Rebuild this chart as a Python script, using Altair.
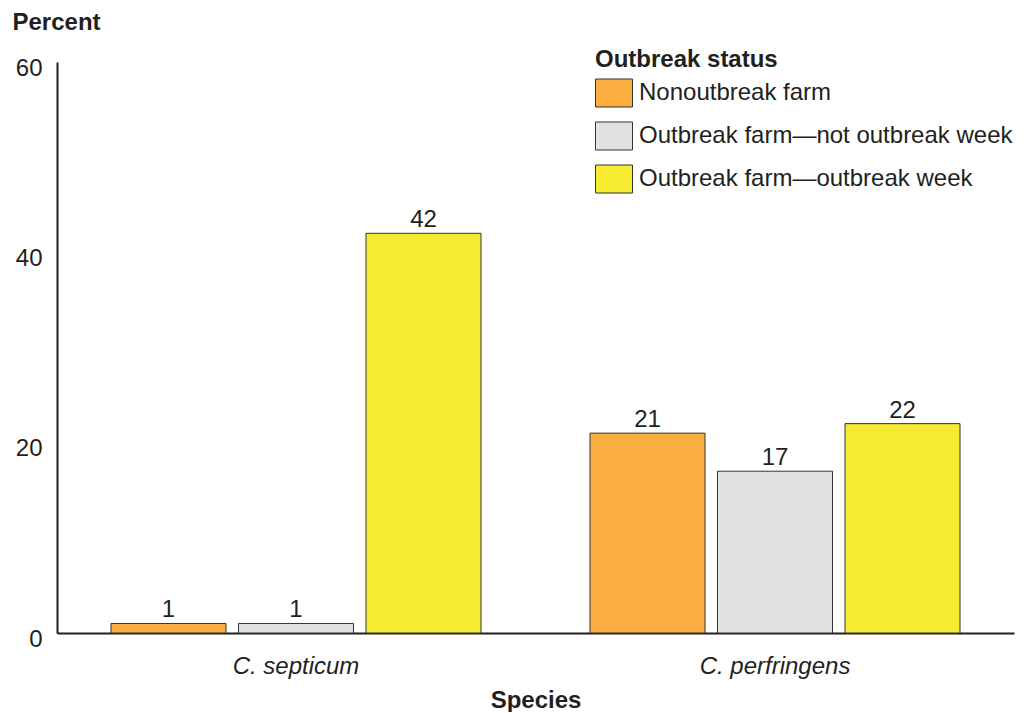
import altair as alt
import pandas as pd

species = ["C. septicum", "C. perfringens"]
statuses = [
    "Nonoutbreak farm",
    "Outbreak farm\u2014not outbreak week",
    "Outbreak farm\u2014outbreak week",
]
septicum_pct = [1, 1, 42]
perfringens_pct = [21, 17, 22]
colors = ["#FBAE40", "#E1E2E4", "#F6EB31"]

rows = []
for st, v in zip(statuses, septicum_pct):
    rows.append({"species": species[0], "status": st, "pct": v})
for st, v in zip(statuses, perfringens_pct):
    rows.append({"species": species[1], "status": st, "pct": v})
df = pd.DataFrame(rows)

FONT = "Liberation Sans"
INK = "#231F20"
FS = 24

x = alt.X(
    "species:N",
    sort=species,
    scale=alt.Scale(paddingInner=0.2276, paddingOuter=0.1127),
    axis=alt.Axis(
        title="Species",
        labelAngle=0,
        labelFontStyle="italic",
        labelFontSize=FS,
        labelColor=INK,
        labelPadding=21,
        ticks=False,
        tickSize=0,
        domainColor=INK,
        domainWidth=2,
        titleFontSize=FS,
        titleFontWeight="bold",
        titleColor=INK,
        titleY=74,
        titleBaseline="alphabetic",
        titleLimit=0,
        grid=False,
    ),
)
xo = alt.XOffset("status:N", sort=statuses, scale=alt.Scale(paddingInner=0.098, paddingOuter=0))
y = alt.Y(
    "pct:Q",
    scale=alt.Scale(domain=[0, 60]),
    axis=alt.Axis(
        values=[0, 20, 40, 60],
        title="Percent",
        titleAngle=0,
        titleAlign="left",
        titleX=-45,
        titleY=-33,
        titleBaseline="alphabetic",
        titleFontSize=FS,
        titleFontWeight="bold",
        titleColor=INK,
        titleLimit=0,
        ticks=False,
        tickSize=0,
        labelPadding=15,
        labelFontSize=FS,
        labelColor=INK,
        labelOffset=6,
        domainColor=INK,
        domainWidth=2,
        grid=False,
    ),
)
color = alt.Color(
    "status:N",
    sort=statuses,
    scale=alt.Scale(domain=statuses, range=colors),
    legend=alt.Legend(
        orient="none",
        legendX=538,
        legendY=-14,
        title="Outbreak status",
        titleFontSize=FS,
        titleFontWeight="bold",
        titleColor=INK,
        titlePadding=2,
        titleLimit=600,
        labelFontSize=FS,
        labelColor=INK,
        labelOffset=6,
        labelLimit=600,
        symbolType="M-1,-0.757H1V0.757H-1Z",
        symbolSize=1369,
        symbolStrokeColor="#333333",
        symbolStrokeWidth=1,
        symbolOpacity=1,
        rowPadding=7,
        padding=0,
    ),
)

bars = alt.Chart(df).mark_bar(stroke="#333333", strokeWidth=1, opacity=1).encode(
    x=x, xOffset=xo, y=y, color=color
)
labels = alt.Chart(df).mark_text(
    dy=-6, baseline="alphabetic", fontSize=FS, color=INK, font=FONT
).encode(x=alt.X("species:N", sort=species), xOffset=alt.XOffset("status:N", sort=statuses), y="pct:Q", text="pct:Q")

chart = (
    alt.layer(bars, labels)
    .properties(
        width=957,
        height=571,
        padding={"left": 49, "top": 54, "right": 2, "bottom": 79},
        autosize=alt.AutoSizeParams(type="none"),
    )
    .configure(font=FONT)
    .configure_view(stroke=None)
)

chart.save("out.html", embed_options={"renderer": "svg", "actions": False})
